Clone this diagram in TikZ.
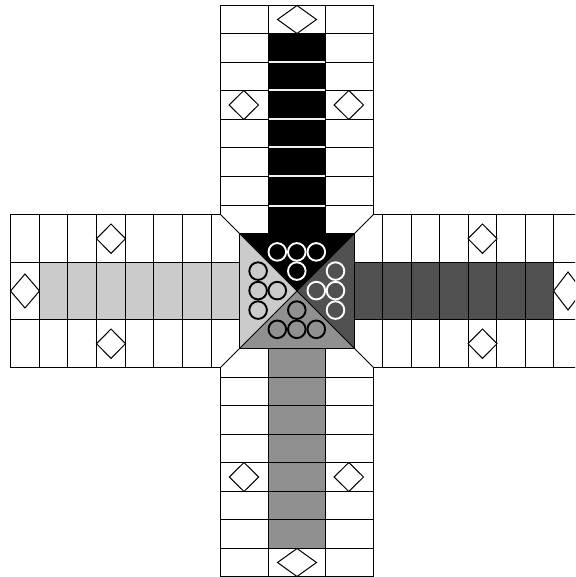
\documentclass[tikz,border=0pt]{standalone}
\definecolor{laneL}{RGB}{203,203,203}
\definecolor{laneR}{RGB}{81,81,81}
\definecolor{laneB}{RGB}{144,144,144}
\definecolor{sepW}{RGB}{240,240,240}
\tikzset{
  gridline/.style={line width=1pt, draw=black, line cap=rect},
  diam/.style={draw=black, fill=white, line width=1pt, line join=miter},
  pawn/.style={line width=1.9pt}
}
\newcommand{\dmd}[4]{\draw[diam] ({#1-#3},#2) -- (#1,{#2-#4}) -- ({#1+#3},#2) -- (#1,{#2+#4}) -- cycle;}
\begin{document}
\begin{tikzpicture}[x=1pt,y=-1pt]
\useasboundingbox (0,0) rectangle (575,577);
\clip (0,0) rectangle (575,577);
\fill[white] (0,0) rectangle (575,577);
% centre triangles
\coordinate (C) at (297,291);
\fill[black] (C) -- (239.5,233.5) -- (354.5,233.5) -- cycle;
\fill[laneR] (C) -- (354.5,233.5) -- (354.5,348.5) -- cycle;
\fill[laneB] (C) -- (354.5,348.5) -- (239.5,348.5) -- cycle;
\fill[laneL] (C) -- (239.5,348.5) -- (239.5,233.5) -- cycle;
% lanes (black lane as separate cells over a light background)
\fill[sepW] (268.5,33.5) rectangle (325.5,233.5);
\fill[black] (268.5,33.5) rectangle (325.5,61.5);
\fill[black] (268.5,63.5) rectangle (325.5,89.5);
\fill[black] (268.5,91.5) rectangle (325.5,118.5);
\fill[black] (268.5,120.5) rectangle (325.5,146.5);
\fill[black] (268.5,148.5) rectangle (325.5,175.5);
\fill[black] (268.5,177.5) rectangle (325.5,204.5);
\fill[black] (268.5,206.5) rectangle (325.5,233.5);
\fill[laneB] (268.5,348.5) rectangle (325.5,548.5);
\fill[laneL] (39.5,262.5) rectangle (239.5,319.5);
\fill[laneR] (354.5,262.5) rectangle (553.5,319.5);
% top arm
\foreach \y in {5.5,33.5,62.5,90.5,119.5,147.5,176.5,205.5}{\draw[gridline] (220.5,\y) -- (268.5,\y) (325.5,\y) -- (373.5,\y);}
\draw[gridline] (268.5,5.5) -- (325.5,5.5) (268.5,33.5) -- (325.5,33.5);
\draw[gridline] (220.5,5.5) -- (220.5,214.5) (373.5,5.5) -- (373.5,214.5)
  (268.5,5.5) -- (268.5,233.5) (325.5,5.5) -- (325.5,233.5);
% bottom arm
\foreach \y in {377.5,405.5,434.5,462.5,491.5,519.5,548.5,576.5}{\draw[gridline] (220.5,\y) -- (373.5,\y);}
\draw[gridline] (220.5,367.5) -- (220.5,576.5) (373.5,367.5) -- (373.5,576.5)
  (268.5,348.5) -- (268.5,576.5) (325.5,348.5) -- (325.5,576.5);
% left arm
\foreach \x in {10.5,39.5,67.5,96.5,125.5,153.5,182.5,211.5}{\draw[gridline] (\x,214.5) -- (\x,367.5);}
\draw[gridline] (10.5,214.5) -- (220.5,214.5) (10.5,367.5) -- (220.5,367.5)
  (10.5,262.5) -- (239.5,262.5) (10.5,319.5) -- (239.5,319.5);
% right arm
\foreach \x in {382.5,411.5,439.5,468.5,496.5,525.5,553.5,582.5}{\draw[gridline] (\x,214.5) -- (\x,367.5);}
\draw[gridline] (373.5,214.5) -- (582.5,214.5) (373.5,367.5) -- (582.5,367.5)
  (354.5,262.5) -- (582.5,262.5) (354.5,319.5) -- (582.5,319.5);
% chamfers and centre
\draw[gridline,line cap=round] (220.5,214.5) -- (239.5,233.5) (373.5,214.5) -- (354.5,233.5)
  (220.5,367.5) -- (239.5,348.5) (373.5,367.5) -- (354.5,348.5);
\draw[gridline] (239.5,233.5) rectangle (354.5,348.5);
\draw[gridline,line cap=round] (239.5,233.5) -- (354.5,348.5) (354.5,233.5) -- (239.5,348.5);
% diamonds
\dmd{297}{19.5}{19.5}{14}
\dmd{297}{562.5}{19.5}{14}
\dmd{25}{291}{14.5}{17}
\dmd{568}{291}{14.5}{19}
\dmd{243.8}{105}{14.7}{14.5}
\dmd{348.8}{105}{14.7}{14.5}
\dmd{244}{477}{14.7}{14.5}
\dmd{348.8}{477}{14.7}{14.5}
\dmd{111}{238.7}{14.5}{14.7}
\dmd{111}{343.7}{14.5}{14.7}
\dmd{482.5}{238.7}{14.5}{14.7}
\dmd{482.5}{343.7}{14.5}{14.7}
% pawns
\begin{scope}[shift={(296.8,290.6)}]
\foreach \p in {(-19.5,-38.7),(0,-38.7),(19.5,-38.7),(0,-19.5)}{\draw[pawn,draw=white,fill=black] \p circle (8.8);}
\foreach \p in {(38.7,-19.5),(38.7,0),(38.7,19.5),(19.5,0)}{\draw[pawn,draw=white,fill=laneR] \p circle (8.8);}
\foreach \p in {(-19.5,38.7),(0,38.7),(19.5,38.7),(0,19.5)}{\draw[pawn,draw=black,fill=laneB] \p circle (8.8);}
\foreach \p in {(-38.7,-19.5),(-38.7,0),(-38.7,19.5),(-19.5,0)}{\draw[pawn,draw=black,fill=laneL] \p circle (8.8);}
\end{scope}
\end{tikzpicture}
\end{document}
